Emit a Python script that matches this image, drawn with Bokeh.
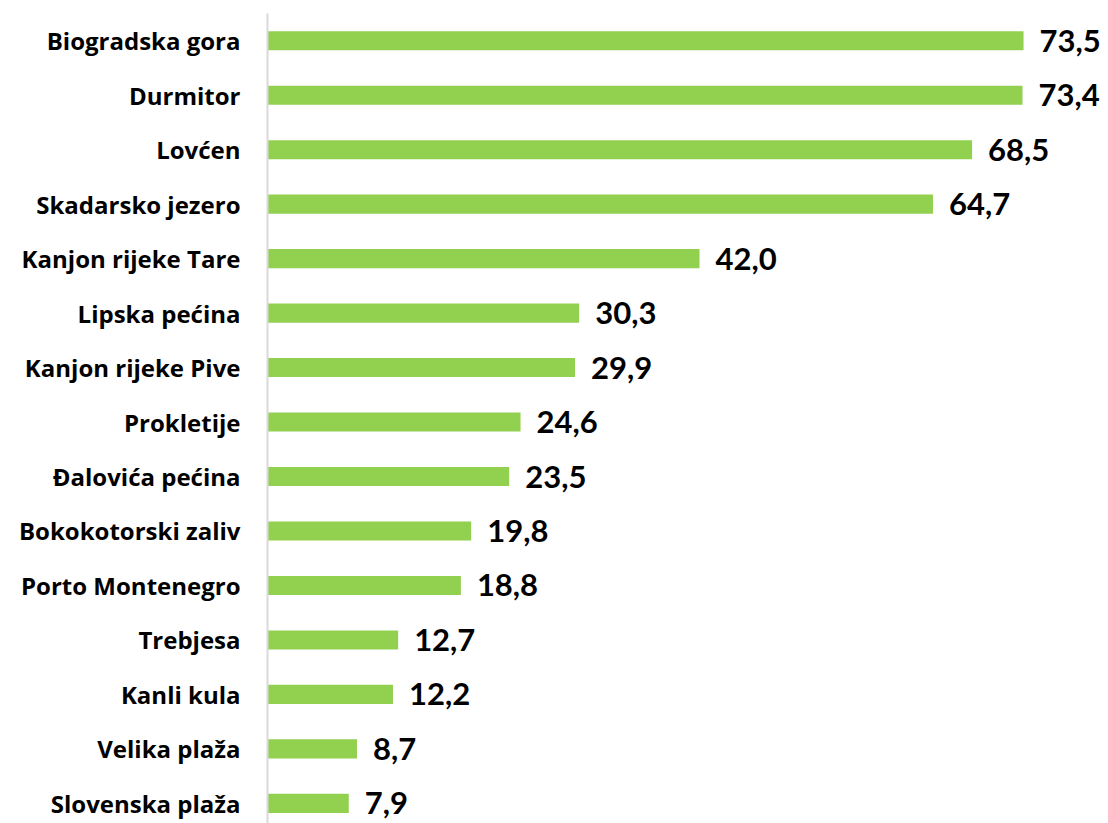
from bokeh.plotting import figure
from bokeh.models import ColumnDataSource, Range1d, FixedTicker
from bokeh.core.properties import value
from bokeh.embed import file_html
from bokeh.resources import INLINE

categories = ["Biogradska gora", "Durmitor", "Lovćen", "Skadarsko jezero",
              "Kanjon rijeke Tare", "Lipska pećina", "Kanjon rijeke Pive",
              "Prokletije", "Đalovića pećina", "Bokokotorski zaliv",
              "Porto Montenegro", "Trebjesa", "Kanli kula", "Velika plaža",
              "Slovenska plaža"]
values = [73.5, 73.4, 68.5, 64.7, 42.0, 30.3, 29.9, 24.6, 23.5, 19.8,
          18.8, 12.7, 12.2, 8.7, 7.9]
value_labels = [f"{v:.1f}".replace(".", ",") for v in values]

n = len(categories)
ypos = [n - 1 - i for i in range(n)]

src = ColumnDataSource(dict(y=ypos, v=values, lab=value_labels, cat=categories))

p = figure(width=1108, height=823, output_backend="svg", toolbar_location=None,
           x_range=Range1d(0, 81.76), y_range=Range1d(-0.37, n - 0.5),
           min_border_left=267, min_border_right=0, min_border_top=13,
           min_border_bottom=0)

p.hbar(y="y", right="v", left=0, height=0.35, source=src,
       fill_color="#92D050", line_color=None)

p.text(x="v", y="y", text="lab", source=src, x_offset=16, y_offset=0,
       text_font=value("Lato"), text_font_style="bold", text_font_size="31px",
       text_baseline="middle", text_align="left", text_color="#000000")

p.xaxis.visible = False
p.xgrid.visible = False
p.ygrid.visible = False
p.outline_line_color = None

ya = p.yaxis[0]
ya.ticker = FixedTicker(ticks=ypos)
ya.major_label_overrides = {y: c for y, c in zip(ypos, categories)}
ya.major_tick_line_color = None
ya.minor_tick_line_color = None
ya.major_tick_out = 0
ya.major_tick_in = 0
ya.major_label_standoff = 27
ya.axis_line_color = "#d9d9d9"
ya.axis_line_width = 2
ya.major_label_text_font = "Open Sans"
ya.major_label_text_font_style = "bold"
ya.major_label_text_font_size = "24px"
ya.major_label_text_color = "#000000"

open("out.html", "w").write(file_html(p, INLINE))
